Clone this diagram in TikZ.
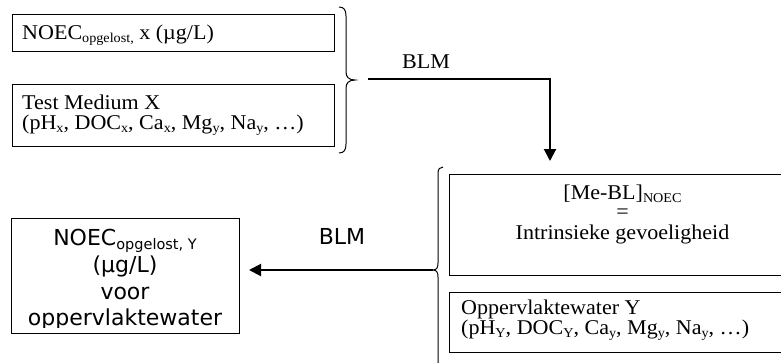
\documentclass[tikz,border=0pt]{standalone}
\usepackage{fontspec}
\setmainfont{Liberation Serif}[FakeStretch=1.05]
\newfontfamily\verdanalike{DejaVu Sans}
\usetikzlibrary{arrows.meta}

% lowered small text, as a word processor sets a subscript
\newcommand\lowsub[2][13.5]{\raisebox{-3.4pt}{\fontsize{#1}{#1}\selectfont #2}}

\tikzset{
  box/.style={draw, line width=1.1pt, inner sep=0pt, anchor=north west},
  serifline/.style={inner sep=0pt, font=\fontsize{21}{20}\selectfont},
  sansline/.style={inner sep=0pt, anchor=base, font=\verdanalike\fontsize{22}{26.7}\selectfont},
  conn/.style={line width=2pt, -{Triangle[length=12pt,width=12pt]}},
  bracket/.style={line width=1pt},
}

\begin{document}
\begin{tikzpicture}[x=1pt, y=-1pt]
\useasboundingbox (0,0) rectangle (781,362);

% input side: measured concentration and test medium
\node[box, minimum width=322pt, minimum height=37pt] (noecx) at (12,14) {};
\node[serifline, anchor=base west] (noecxt) at (22,39)
  {NOEC\lowsub{opgelost,} x (µg/L)};

\node[box, minimum width=322pt, minimum height=62pt] (medx) at (12,84) {};
\node[serifline, anchor=base west] (medxa) at (22,109) {Test Medium X};
\node[serifline, anchor=base west] (medxb) at (22,129.5)
  {(pH\lowsub{x}, DOC\lowsub{x}, Ca\lowsub{x}, Mg\lowsub{y}, Na\lowsub{y}, …)};

% brace grouping the two input boxes
\draw[bracket] (339,7) .. controls (344,7) and (346,10) .. (346,16)
  -- (346,72) .. controls (346,77) and (349,80) .. (355,80)
  .. controls (349,80) and (346,83) .. (346,88)
  -- (346,144) .. controls (346,150) and (344,153) .. (339,153);

% intrinsic sensitivity (the box runs on past the right edge)
\node[box, minimum width=380pt, minimum height=101pt] (mebl) at (449,174) {};
\node[serifline, anchor=base] (mebla) at (622.5,199) {[Me-BL]\lowsub{NOEC}};
\node[serifline, anchor=base] (meblb) at (622.5,218) {=};
\node[serifline, anchor=base] (meblc) at (622.5,239) {Intrinsieke gevoeligheid};

% target surface water
\node[box, minimum width=380pt, minimum height=60pt] (watery) at (449,292) {};
\node[serifline, anchor=base west] (waterya) at (461,314) {Oppervlaktewater Y};
\node[serifline, anchor=base west] (wateryb) at (461,334)
  {(pH\lowsub{Y}, DOC\lowsub{Y}, Ca\lowsub{y}, Mg\lowsub{y}, Na\lowsub{y}, …)};

% brace grouping the two right-hand boxes
\draw[bracket] (443,167) .. controls (440,167) and (438,169) .. (438,173)
  -- (438,263) .. controls (438,267) and (437,270) .. (433,270)
  .. controls (437,270) and (438,273) .. (438,277)
  -- (438,367) .. controls (438,371) and (440,373) .. (443,373);

% result box; its text is cut off at the inner margin
\node[box, line width=1pt, minimum width=228pt, minimum height=115pt] (noecy) at (11,218) {};
\begin{scope}
  \clip (11,218) rectangle (239,327.7);
  \node[sansline] (noecya) at (125,245.7) {NOEC\lowsub[14.5]{opgelost, Y}};
  \node[sansline] (noecyb) at (125,272.4) {(µg/L)};
  \node[sansline] (noecyc) at (125,299.1) {voor};
  \node[sansline] (noecyd) at (125,325.8) {oppervlaktewater};
\end{scope}

% BLM connectors
\coordinate (blmstart) at (368,79);
\coordinate (blmend) at (550,161);
\draw[conn] (blmstart) -| (blmend);
\node[serifline, anchor=base] (blm1) at (426,68) {BLM};

\coordinate (backstart) at (433,270);
\coordinate (backend) at (249,270);
\draw[conn] (backstart) -- (backend);
\node[sansline] (blm2) at (342,244) {BLM};
\end{tikzpicture}
\end{document}
